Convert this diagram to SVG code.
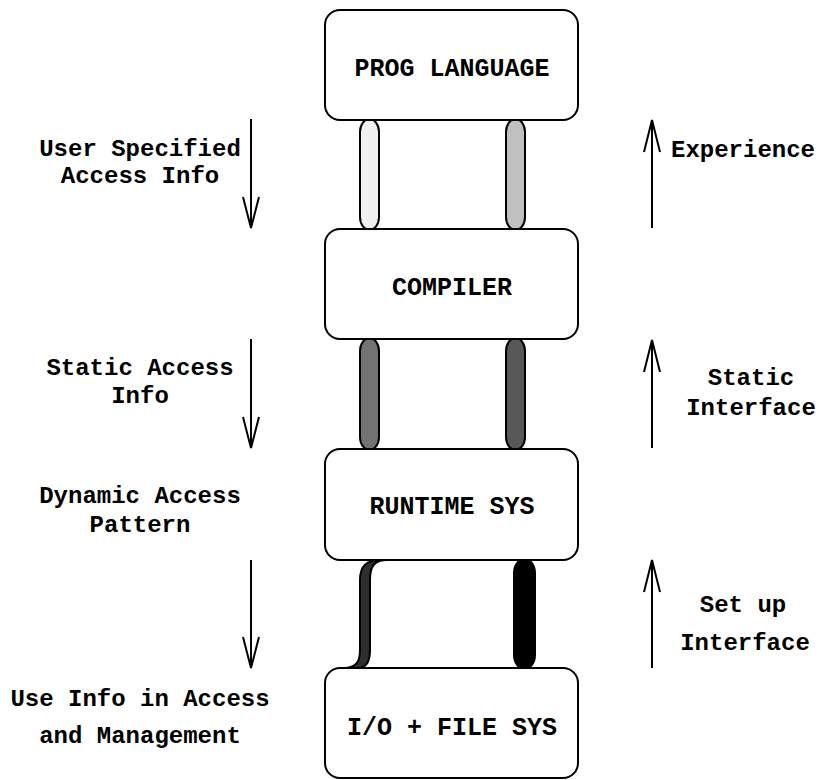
<svg xmlns="http://www.w3.org/2000/svg" width="820" height="780" viewBox="0 0 820 780">
  <style>
    .box { fill: #ffffff; stroke: #000000; stroke-width: 2; }
    .btxt { font-family: "Liberation Mono", "Courier New", monospace; font-weight: bold; font-size: 25px; text-anchor: middle; fill: #000; }
    .lbl { font-family: "Liberation Mono", "Courier New", monospace; font-weight: bold; font-size: 24px; text-anchor: middle; fill: #000; }
    .pipe { stroke: #000000; stroke-width: 2; }
    .arr { fill: none; stroke: #000000; stroke-width: 2; }
  </style>
  <rect width="820" height="780" fill="#ffffff"/>
  <g id="connectors">
    <rect class="pipe" x="360" y="119" width="19" height="111" rx="9.5" ry="13" fill="#f0f0f0"/>
    <rect class="pipe" x="506" y="119" width="19" height="111" rx="9.5" ry="13" fill="#c0c0c0"/>
    <rect class="pipe" x="360" y="338" width="19" height="112" rx="9.5" ry="13" fill="#737373"/>
    <rect class="pipe" x="506" y="338" width="19" height="112" rx="9.5" ry="13" fill="#585858"/>
    <path class="pipe" fill="#2e2e2e" d="M 382 560 C 366 560 360 566 360 580 L 360 650 C 360 662 356 668 344 668 L 358 668 C 366 668 370 662 370 650 L 370 580 C 370 566 374 560 388 560 Z"/>
    <rect class="pipe" x="514" y="559" width="21" height="110" rx="10.5" ry="14" fill="#000000"/>
    <g class="arr">
      <path d="M 251 119 L 251 228 M 243 197 L 251 228 L 259 197"/>
      <path d="M 251 339 L 251 448 M 243 417 L 251 448 L 259 417"/>
      <path d="M 251 560 L 251 668 M 243 637 L 251 668 L 259 637"/>
      <path d="M 652 228 L 652 120 M 644 152 L 652 120 L 660 152"/>
      <path d="M 652 448 L 652 340 M 644 372 L 652 340 L 660 372"/>
      <path d="M 652 668 L 652 560 M 644 592 L 652 560 L 660 592"/>
    </g>
  </g>
  <g id="prog-language">
    <rect class="box" x="325" y="10" width="253" height="110" rx="15"/>
    <text class="btxt" x="452" y="76">PROG LANGUAGE</text>
  </g>
  <g id="compiler">
    <rect class="box" x="325" y="229" width="253" height="110" rx="15"/>
    <text class="btxt" x="452" y="295">COMPILER</text>
  </g>
  <g id="runtime-sys">
    <rect class="box" x="325" y="449" width="253" height="111" rx="15"/>
    <text class="btxt" x="452" y="514">RUNTIME SYS</text>
  </g>
  <g id="io-file-sys">
    <rect class="box" x="325" y="668" width="253" height="110" rx="15"/>
    <text class="btxt" x="452" y="735">I/O + FILE SYS</text>
  </g>
  <g id="labels">
    <text class="lbl" x="140" y="156">User Specified</text>
    <text class="lbl" x="140" y="183">Access Info</text>
    <text class="lbl" x="140" y="375">Static Access</text>
    <text class="lbl" x="140" y="403">Info</text>
    <text class="lbl" x="140" y="503">Dynamic Access</text>
    <text class="lbl" x="140" y="532">Pattern</text>
    <text class="lbl" x="140" y="706">Use Info in Access</text>
    <text class="lbl" x="140" y="743">and Management</text>
    <text class="lbl" x="743" y="157">Experience</text>
    <text class="lbl" x="751" y="385">Static</text>
    <text class="lbl" x="751" y="415">Interface</text>
    <text class="lbl" x="743" y="612">Set up</text>
    <text class="lbl" x="745" y="650">Interface</text>
  </g>
</svg>
